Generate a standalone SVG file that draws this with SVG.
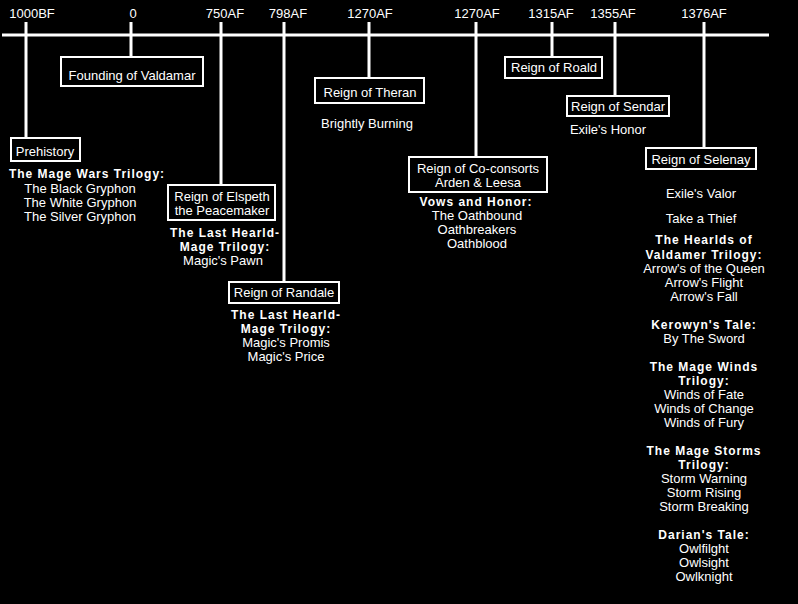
<svg xmlns="http://www.w3.org/2000/svg" width="798" height="604" viewBox="0 0 798 604">
<style>
text{font-family:"Liberation Sans",Arial,sans-serif;font-size:13px;fill:#fff;text-anchor:middle}
.b{font-weight:bold;font-size:12px;letter-spacing:1px}
.box{fill:#000;stroke:#fff;stroke-width:2}
.ln{stroke:#fff;stroke-width:3;fill:none}
</style>
<rect x="0" y="0" width="798" height="604" fill="#000"/>
<g id="connectors">
<line class="ln" x1="2" y1="35" x2="769" y2="35"/>
<line class="ln" x1="26" y1="22" x2="26" y2="138"/>
<line class="ln" x1="131" y1="22" x2="131" y2="57"/>
<line class="ln" x1="221" y1="22" x2="221" y2="185"/>
<line class="ln" x1="284" y1="22" x2="284" y2="282"/>
<line class="ln" x1="369" y1="22" x2="369" y2="78"/>
<line class="ln" x1="476" y1="22" x2="476" y2="157"/>
<line class="ln" x1="552" y1="22" x2="552" y2="57"/>
<line class="ln" x1="615" y1="22" x2="615" y2="96"/>
<line class="ln" x1="704" y1="22" x2="704" y2="148"/>
</g>
<g id="ticks">
<text x="32" y="18">1000BF</text>
<text x="133" y="18">0</text>
<text x="225" y="18">750AF</text>
<text x="288" y="18">798AF</text>
<text x="370" y="18">1270AF</text>
<text x="477" y="18">1270AF</text>
<text x="551" y="18">1315AF</text>
<text x="613" y="18">1355AF</text>
<text x="704" y="18">1376AF</text>
</g>
<g id="prehistory">
<rect class="box" x="11" y="138" width="69" height="23"/>
<text x="45" y="156">Prehistory</text>
<text class="b" x="87" y="178">The Mage Wars Trilogy:</text>
<text x="80" y="193">The Black Gryphon</text>
<text x="80" y="207">The White Gryphon</text>
<text x="80" y="221">The Silver Gryphon</text>
</g>
<g id="founding">
<rect class="box" x="61" y="57" width="142" height="29"/>
<text x="132" y="80">Founding of Valdamar</text>
</g>
<g id="elspeth">
<rect class="box" x="168" y="185" width="107" height="35"/>
<text x="222" y="201">Reign of Elspeth</text>
<text x="222" y="215">the Peacemaker</text>
<text class="b" x="225" y="237">The Last Hearld-</text>
<text class="b" x="225" y="251">Mage Trilogy:</text>
<text x="223" y="265">Magic's Pawn</text>
</g>
<g id="randale">
<rect class="box" x="229" y="282" width="110" height="21"/>
<text x="284" y="297">Reign of Randale</text>
<text class="b" x="286" y="319">The Last Hearld-</text>
<text class="b" x="286" y="333">Mage Trilogy:</text>
<text x="286" y="347">Magic's Promis</text>
<text x="286" y="361">Magic's Price</text>
</g>
<g id="theran">
<rect class="box" x="315" y="78" width="109" height="25"/>
<text x="370" y="97">Reign of Theran</text>
<text x="367" y="128">Brightly Burning</text>
</g>
<g id="coconsorts">
<rect class="box" x="409" y="157" width="138" height="35"/>
<text x="478" y="173">Reign of Co-consorts</text>
<text x="478" y="187">Arden &amp; Leesa</text>
<text class="b" x="476" y="206">Vows and Honor:</text>
<text x="477" y="220">The Oathbound</text>
<text x="477" y="234">Oathbreakers</text>
<text x="477" y="248">Oathblood</text>
</g>
<g id="roald">
<rect class="box" x="505" y="57" width="97" height="21"/>
<text x="554" y="72">Reign of Roald</text>
</g>
<g id="sendar">
<rect class="box" x="567" y="96" width="102" height="20"/>
<text x="618" y="111">Reign of Sendar</text>
<text x="608" y="134">Exile's Honor</text>
</g>
<g id="selenay">
<rect class="box" x="646" y="148" width="110" height="21"/>
<text x="701" y="164">Reign of Selenay</text>
<text x="701" y="198">Exile's Valor</text>
<text x="701" y="223">Take a Thief</text>
<text class="b" x="704" y="244">The Hearlds of</text>
<text class="b" x="704" y="259">Valdamer Trilogy:</text>
<text x="704" y="273">Arrow's of the Queen</text>
<text x="704" y="287">Arrow's Flight</text>
<text x="704" y="301">Arrow's Fall</text>
<text class="b" x="704" y="329">Kerowyn's Tale:</text>
<text x="704" y="343">By The Sword</text>
<text class="b" x="704" y="371">The Mage Winds</text>
<text class="b" x="704" y="385">Trilogy:</text>
<text x="704" y="399">Winds of Fate</text>
<text x="704" y="413">Winds of Change</text>
<text x="704" y="427">Winds of Fury</text>
<text class="b" x="704" y="455">The Mage Storms</text>
<text class="b" x="704" y="469">Trilogy:</text>
<text x="704" y="483">Storm Warning</text>
<text x="704" y="497">Storm Rising</text>
<text x="704" y="511">Storm Breaking</text>
<text class="b" x="704" y="539">Darian's Tale:</text>
<text x="704" y="553">Owlfilght</text>
<text x="704" y="567">Owlsight</text>
<text x="704" y="581">Owlknight</text>
</g>
</svg>
